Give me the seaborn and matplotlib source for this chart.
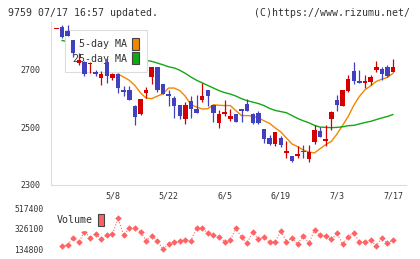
import numpy as np
import pandas as pd
import seaborn as sns
import matplotlib.pyplot as plt
from matplotlib.patches import Patch


"""
1. Data (read off the reference chart, one value per trading day)
"""
opens = [2843, 2848, 2836, 2802, 2722, 2728, 2719, 2692, 2671, 2725,
         2671, 2685, 2628, 2628, 2572, 2545, 2619, 2674, 2708, 2650,
         2615, 2601, 2576, 2528, 2590, 2564, 2593, 2630, 2578, 2514,
         2545, 2528, 2547, 2563, 2580, 2545, 2548, 2494, 2462, 2441,
         2462, 2410, 2400, 2398, 2418, 2390, 2448, 2485, 2452, 2528,
         2593, 2575, 2627, 2694, 2659, 2652, 2656, 2698, 2702, 2708,
         2692]
highs = [2843, 2857, 2854, 2802, 2757, 2730, 2727, 2698, 2694, 2741,
         2688, 2688, 2642, 2642, 2578, 2599, 2638, 2708, 2708, 2650,
         2630, 2607, 2576, 2586, 2610, 2613, 2653, 2630, 2578, 2561,
         2593, 2564, 2547, 2563, 2599, 2548, 2557, 2494, 2473, 2482,
         2468, 2452, 2400, 2433, 2436, 2439, 2508, 2501, 2508, 2557,
         2613, 2628, 2680, 2725, 2698, 2680, 2680, 2729, 2711, 2717,
         2738]
lows = [2843, 2810, 2816, 2743, 2718, 2678, 2690, 2677, 2648, 2653,
        2663, 2619, 2607, 2593, 2508, 2541, 2601, 2650, 2622, 2615,
        2572, 2531, 2528, 2512, 2531, 2549, 2587, 2572, 2518, 2497,
        2537, 2520, 2518, 2518, 2557, 2511, 2511, 2444, 2436, 2433,
        2431, 2392, 2378, 2392, 2392, 2378, 2441, 2464, 2433, 2491,
        2557, 2572, 2622, 2650, 2652, 2636, 2645, 2692, 2665, 2673,
        2692]
closes = [2843, 2815, 2816, 2758, 2732, 2686, 2724, 2686, 2686, 2679,
          2685, 2636, 2622, 2593, 2535, 2599, 2628, 2708, 2628, 2615,
          2610, 2572, 2537, 2576, 2563, 2549, 2607, 2610, 2549, 2547,
          2552, 2537, 2518, 2555, 2557, 2513, 2514, 2460, 2441, 2482,
          2439, 2416, 2381, 2408, 2413, 2413, 2489, 2464, 2458, 2551,
          2576, 2628, 2667, 2659, 2652, 2659, 2673, 2708, 2686, 2679,
          2708]

nan = np.nan
ma5 = [nan, nan, nan, nan, nan, nan, nan, nan, nan, nan,
       nan, 2685, 2674, 2663, 2645, 2619, 2601, 2599, 2608, 2616,
       2636, 2636, 2627, 2607, 2578, 2570, 2563, 2564, 2578, 2576,
       2575, 2575, 2557, 2540, 2540, 2539, 2532, 2522, 2513, 2497,
       2483, 2462, 2441, 2432, 2420, 2413, 2410, 2425, 2439, 2450,
       2476, 2506, 2537, 2576, 2607, 2630, 2644, 2659, 2667, 2673,
       2688]
ma25 = [nan, 2802, 2797, 2793, 2788, 2784, 2779, 2774, 2769, 2764,
        2759, 2754, 2749, 2744, 2739, 2735, 2732, 2729, 2723, 2717,
        2710, 2706, 2698, 2687, 2674, 2663, 2654, 2645, 2636, 2627,
        2620, 2615, 2608, 2599, 2592, 2587, 2582, 2575, 2565, 2558,
        2554, 2550, 2540, 2530, 2522, 2515, 2506, 2500, 2499, 2498,
        2499, 2501, 2505, 2506, 2511, 2516, 2520, 2526, 2532, 2537,
        2544]
volume = [nan, 165900, 175200, 243700, 200100, 300000, 243700, 280000, 228100, 270000,
          274800, 424100, 268600, 330800, 330800, 299700, 215700, 262300, 215700, 134800,
          184600, 200100, 215700, 221900, 215700, 330800, 330800, 284100, 268600, 246800,
          206400, 221900, 330800, 246800, 190800, 299700, 228100, 246800, 200100, 206400,
          305900, 206400, 237500, 184600, 259200, 190800, 315200, 268600, 259200, 228100,
          284100, 181500, 253000, 284100, 206400, 206400, 221900, 169000, 237500, 190800,
          221900]

date_labels = ['5/8', '5/22', '6/5', '6/19', '7/3', '7/17']
date_pos = [10, 20, 30, 40, 50, 60]
price_ticks = [2300, 2500, 2700]
vol_ticks = [134800, 326100, 517400]

UP, DOWN = '#d40000', '#4040c0'
MA5_C, MA25_C = '#f08800', '#12a812'
VOL_C = '#ff6262'
AXIS_C = '#dcdcdc'
TXT_C = '#333333'
EDGE_C = '#444444'
MONO = 'DejaVu Sans Mono'

df = pd.DataFrame({'open': opens, 'high': highs, 'low': lows, 'close': closes,
                   'ma5': ma5, 'ma25': ma25, 'volume': volume})
df['day'] = np.arange(len(df))
colors = np.where(df['close'] >= df['open'], UP, DOWN)


"""
2. Plot
"""
sns.set_style('white')
plt.rcParams['font.family'] = [MONO]

fig = plt.figure(figsize=(4.2, 2.59), dpi=100)
ax = fig.add_axes([0.1207, 0.2876, 0.8460, 0.6274])
axv = fig.add_axes([0.1207, 0.0375, 0.8460, 0.1583])
x_lim = (-1, 62.3)

# moving averages sit under the legend, candles above it
sns.lineplot(data=df, x='day', y='ma5', color=MA5_C, lw=1.0, ax=ax, zorder=2)
sns.lineplot(data=df, x='day', y='ma25', color=MA25_C, lw=1.0, ax=ax, zorder=2)

ax.vlines(df['day'], df['low'], df['high'], colors=colors, lw=0.9, zorder=4)
body_lo = df[['open', 'close']].min(axis=1)
body_h = (df['close'] - df['open']).abs().clip(lower=3)
ax.bar(df['day'], body_h, bottom=body_lo, width=0.8, color=colors, lw=0, zorder=4)

handles = [Patch(facecolor=MA5_C, edgecolor=EDGE_C, lw=0.8, label='5-day MA'),
           Patch(facecolor=MA25_C, edgecolor=EDGE_C, lw=0.8, label='25-day MA')]
leg = ax.legend(handles=handles, loc='upper left', bbox_to_anchor=(0.040, 0.951),
                borderaxespad=0, markerfirst=False, handlelength=0.67,
                handleheight=1.5, handletextpad=0.55, labelspacing=0.2,
                borderpad=0.8, fancybox=False, framealpha=1, edgecolor=AXIS_C,
                labelcolor=TXT_C, prop={'family': MONO, 'size': 7.2})
leg.get_frame().set_linewidth(0.8)
leg.set_zorder(3)

ax.set_xlim(*x_lim)
ax.set_ylim(2300, 2866)
ax.set_yticks(price_ticks)
ax.set_xticks(date_pos, date_labels)
ax.set_xticks(np.linspace(x_lim[0], x_lim[1], 12), minor=True)
ax.tick_params(axis='x', which='major', length=0, pad=5, labelsize=6, labelcolor=TXT_C)
ax.tick_params(axis='x', which='minor', direction='inout', length=5.8,
               color=AXIS_C, width=0.8)
ax.tick_params(axis='y', direction='inout', length=5.8, color=AXIS_C, width=0.8,
               labelsize=6, labelcolor=TXT_C, pad=4.8)
ax.set_xlabel('')
ax.set_ylabel('')
for side in ['top', 'right']:
    ax.spines[side].set_visible(False)
for side in ['left', 'bottom']:
    ax.spines[side].set_color(AXIS_C)
    ax.spines[side].set_linewidth(0.8)

# volume panel
sns.lineplot(data=df, x='day', y='volume', color=VOL_C, lw=0.8, ls=':',
             marker='D', markersize=3.3, markeredgewidth=0, clip_on=False, ax=axv)
vleg = axv.legend(handles=[Patch(facecolor=VOL_C, edgecolor=EDGE_C, lw=0.8, label='Volume')],
                  loc='upper left', bbox_to_anchor=(0.005, 0.96), borderaxespad=0,
                  markerfirst=False, handlelength=0.6, handleheight=1.55,
                  handletextpad=0.55, borderpad=0.4, fancybox=False, framealpha=1,
                  facecolor='white', edgecolor='white', labelcolor=TXT_C,
                  prop={'family': MONO, 'size': 7.2})
axv.set_xlim(*x_lim)
axv.set_ylim(vol_ticks[0], vol_ticks[-1])
axv.set_yticks(vol_ticks)
axv.set_xticks([])
axv.tick_params(axis='y', length=0, labelsize=5.8, labelcolor=TXT_C, pad=5.3)
axv.set_xlabel('')
axv.set_ylabel('')
sns.despine(ax=axv, left=True, bottom=True)

fig.text(8 / 420, 1 - 12.5 / 259, '9759 07/17 16:57 updated.', ha='left',
         va='center', fontsize=7.1, color=TXT_C)
fig.text(410 / 420, 1 - 12.5 / 259, '(C)https://www.rizumu.net/', ha='right',
         va='center', fontsize=7.1, color=TXT_C)

fig.savefig('out.png', dpi=100)
